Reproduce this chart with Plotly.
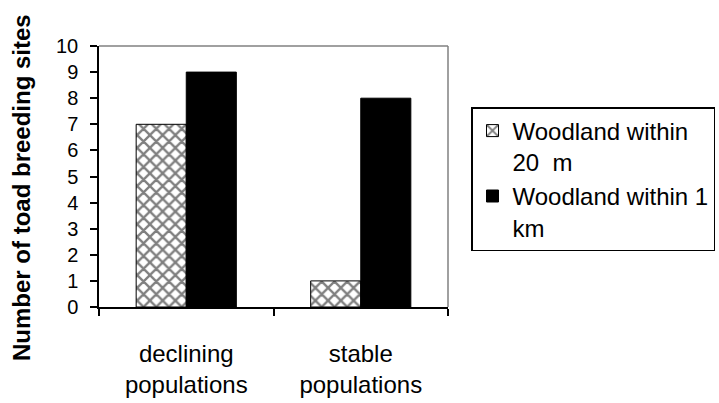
import plotly.graph_objects as go

categories = ["declining<br>populations", "stable<br>populations"]
series_names = ["Woodland within<br>20  m", "Woodland within 1<br>km"]
woodland_20m = [7, 1]
woodland_1km = [9, 8]
y_ticks = [0, 1, 2, 3, 4, 5, 6, 7, 8, 9, 10]

FONT = "Arial, Liberation Sans, sans-serif"

fig = go.Figure()
fig.add_trace(go.Bar(
    x=categories, y=woodland_20m, name=series_names[0],
    marker=dict(color="white", line=dict(color="black", width=1),
                pattern=dict(shape="x", fgcolor="black", bgcolor="white", size=9, solidity=0.45)),
))
fig.add_trace(go.Bar(
    x=categories, y=woodland_1km, name=series_names[1],
    marker=dict(color="black", line=dict(color="black", width=1)),
))

W, H = 719, 403
L, R, T, B = 99, 448, 46, 307

def px_x(sx):
    return (sx - L) / (R - L)

def px_y(sy):
    return (B - sy) / (B - T)

fig.update_layout(
    width=W, height=H,
    margin=dict(l=L, r=W - R, t=T, b=H - B, pad=0, autoexpand=False),
    paper_bgcolor="white", plot_bgcolor="white",
    barmode="group", bargap=0.426, bargroupgap=0,
    font=dict(family=FONT, color="black", size=20),
    showlegend=True,
    legend=dict(xref="container", yref="container",
                x=471 / W, xanchor="left", y=1 - 107 / H, yanchor="top",
                bordercolor="black", borderwidth=1.5, bgcolor="white",
                font=dict(size=24, family=FONT), valign="top",
                itemwidth=30),
)
fig.update_xaxes(
    automargin=False,
    showline=True, linecolor="black", linewidth=1.5,
    ticks="outside", ticklen=7, tickcolor="black", tickwidth=1.5,
    tickson="boundaries", ticklabelstandoff=24,
    tickfont=dict(size=24, family=FONT),
    showgrid=False, zeroline=False,
)
fig.update_yaxes(
    automargin=False,
    range=[0, 10], tickvals=y_ticks,
    showline=True, linecolor="black", linewidth=1.5,
    ticks="outside", ticklen=7, tickcolor="black", tickwidth=1.5,
    tickfont=dict(size=20, family=FONT), ticklabelstandoff=8,
    showgrid=False, zeroline=False,
)
# gray plot-area border (top and right)
fig.add_shape(type="line", xref="paper", yref="paper", x0=0, x1=1, y0=1, y1=1,
              line=dict(color="#808080", width=1.5))
fig.add_shape(type="line", xref="paper", yref="paper", x0=1, x1=1, y0=0, y1=1,
              line=dict(color="#808080", width=1.5))
# axis title
fig.add_annotation(text="<b>Number of toad breeding sites</b>", textangle=-90,
                   xref="paper", yref="paper", x=px_x(22), y=px_y(188),
                   xanchor="center", yanchor="middle", showarrow=False,
                   font=dict(size=24, family=FONT, color="black"))

fig.write_html("out.html", config={"displayModeBar": False},
               post_script="document.body.style.margin='0';document.body.style.overflow='hidden';")
